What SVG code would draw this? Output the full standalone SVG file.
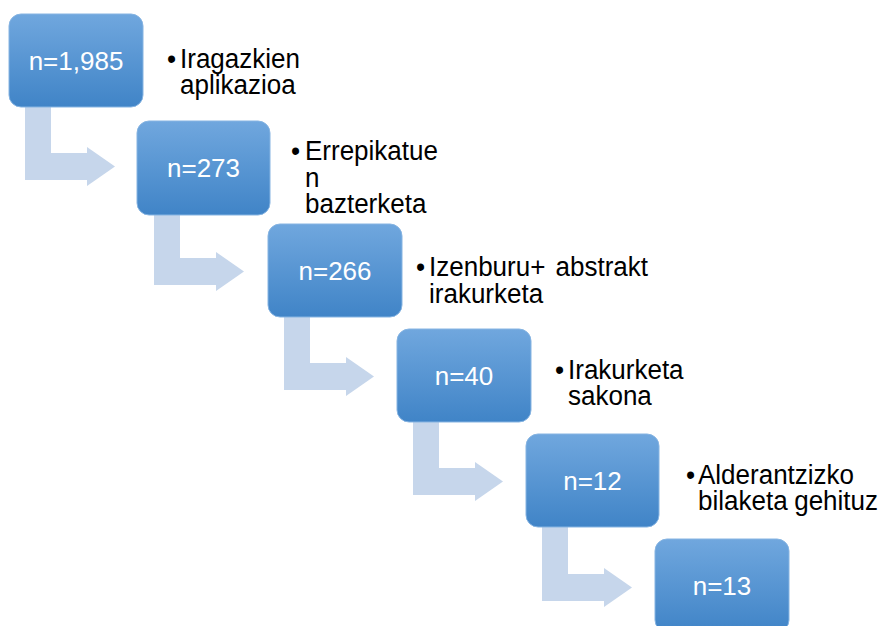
<svg xmlns="http://www.w3.org/2000/svg" width="882" height="626" viewBox="0 0 882 626">
  <defs>
    <linearGradient id="boxGrad" x1="0" y1="0" x2="0" y2="1">
      <stop offset="0" stop-color="#70a7de"/>
      <stop offset="1" stop-color="#4084c7"/>
    </linearGradient>
    <style>
      .box { fill: url(#boxGrad); stroke: #86b4e2; stroke-width: 1; }
      .arrow { fill: #c6d6eb; }
      .num { font-family: "Liberation Sans", Arial, sans-serif; font-size: 26px; fill: #ffffff; text-anchor: middle; }
      .lbl { font-family: "Liberation Sans", Arial, sans-serif; font-size: 26px; fill: #000000; }
      .end { text-anchor: end; }
    </style>
  </defs>
  <rect width="882" height="626" fill="#ffffff"/>
  <g id="connectors">
    <path class="arrow" d="M25 103 V180 H87 V186 L115 166.5 L87 147 V153 H51 V103 Z"/>
    <path class="arrow" d="M154 208 V285 H216 V291 L244 271.5 L216 252 V258 H180 V208 Z"/>
    <path class="arrow" d="M284 313 V390 H346 V396 L374 376.5 L346 357 V363 H310 V313 Z"/>
    <path class="arrow" d="M413 418 V495 H475 V501 L503 481.5 L475 462 V468 H439 V418 Z"/>
    <path class="arrow" d="M542 524 V601 H604 V607 L632 587.5 L604 568 V574 H568 V524 Z"/>
  </g>
  <g id="node1">
    <rect class="box" x="9" y="14" width="134" height="93" rx="12"/>
    <text class="num" x="76" y="70">n=1,985</text>
  </g>
  <g id="label1">
    <text class="lbl" transform="translate(180,68) scale(1,1.06)"><tspan x="-13">•</tspan><tspan x="0">Iragazkien</tspan></text>
    <text class="lbl" transform="translate(180,94) scale(1,1.06)">aplikazioa</text>
  </g>
  <g id="node2">
    <rect class="box" x="137" y="121" width="133" height="94" rx="12"/>
    <text class="num" x="203.5" y="177">n=273</text>
  </g>
  <g id="label2">
    <text class="lbl" transform="translate(305,160) scale(1,1.06)"><tspan x="-14">•</tspan><tspan x="0">Errepikatue</tspan></text>
    <text class="lbl" transform="translate(305,186.5) scale(1,1.06)">n</text>
    <text class="lbl" transform="translate(305,213) scale(1,1.06)">bazterketa</text>
  </g>
  <g id="node3">
    <rect class="box" x="268" y="224" width="134" height="93" rx="12"/>
    <text class="num" x="335" y="280">n=266</text>
  </g>
  <g id="label3">
    <text class="lbl" transform="translate(429,276) scale(1,1.06)"><tspan x="-13">•</tspan><tspan x="0">Izenburu+</tspan></text>
    <text class="lbl end" transform="translate(648,276) scale(1,1.06)">abstrakt</text>
    <text class="lbl" transform="translate(429,303) scale(1,1.06)">irakurketa</text>
  </g>
  <g id="node4">
    <rect class="box" x="397" y="329" width="134" height="93" rx="12"/>
    <text class="num" x="464" y="385">n=40</text>
  </g>
  <g id="label4">
    <text class="lbl" transform="translate(568,379) scale(1,1.06)"><tspan x="-13">•</tspan><tspan x="0">Irakurketa</tspan></text>
    <text class="lbl" transform="translate(568,405) scale(1,1.06)">sakona</text>
  </g>
  <g id="node5">
    <rect class="box" x="526" y="434" width="133" height="93" rx="12"/>
    <text class="num" x="592.5" y="490">n=12</text>
  </g>
  <g id="label5">
    <text class="lbl" transform="translate(698,484) scale(1,1.06)"><tspan x="-12">•</tspan><tspan x="0">Alderantzizko</tspan></text>
    <text class="lbl" transform="translate(698,510) scale(1,1.06)">bilaketa</text>
    <text class="lbl end" transform="translate(878,510) scale(1,1.06)">gehituz</text>
  </g>
  <g id="node6">
    <rect class="box" x="655" y="539" width="134" height="93" rx="12"/>
    <text class="num" x="722" y="595">n=13</text>
  </g>
</svg>
